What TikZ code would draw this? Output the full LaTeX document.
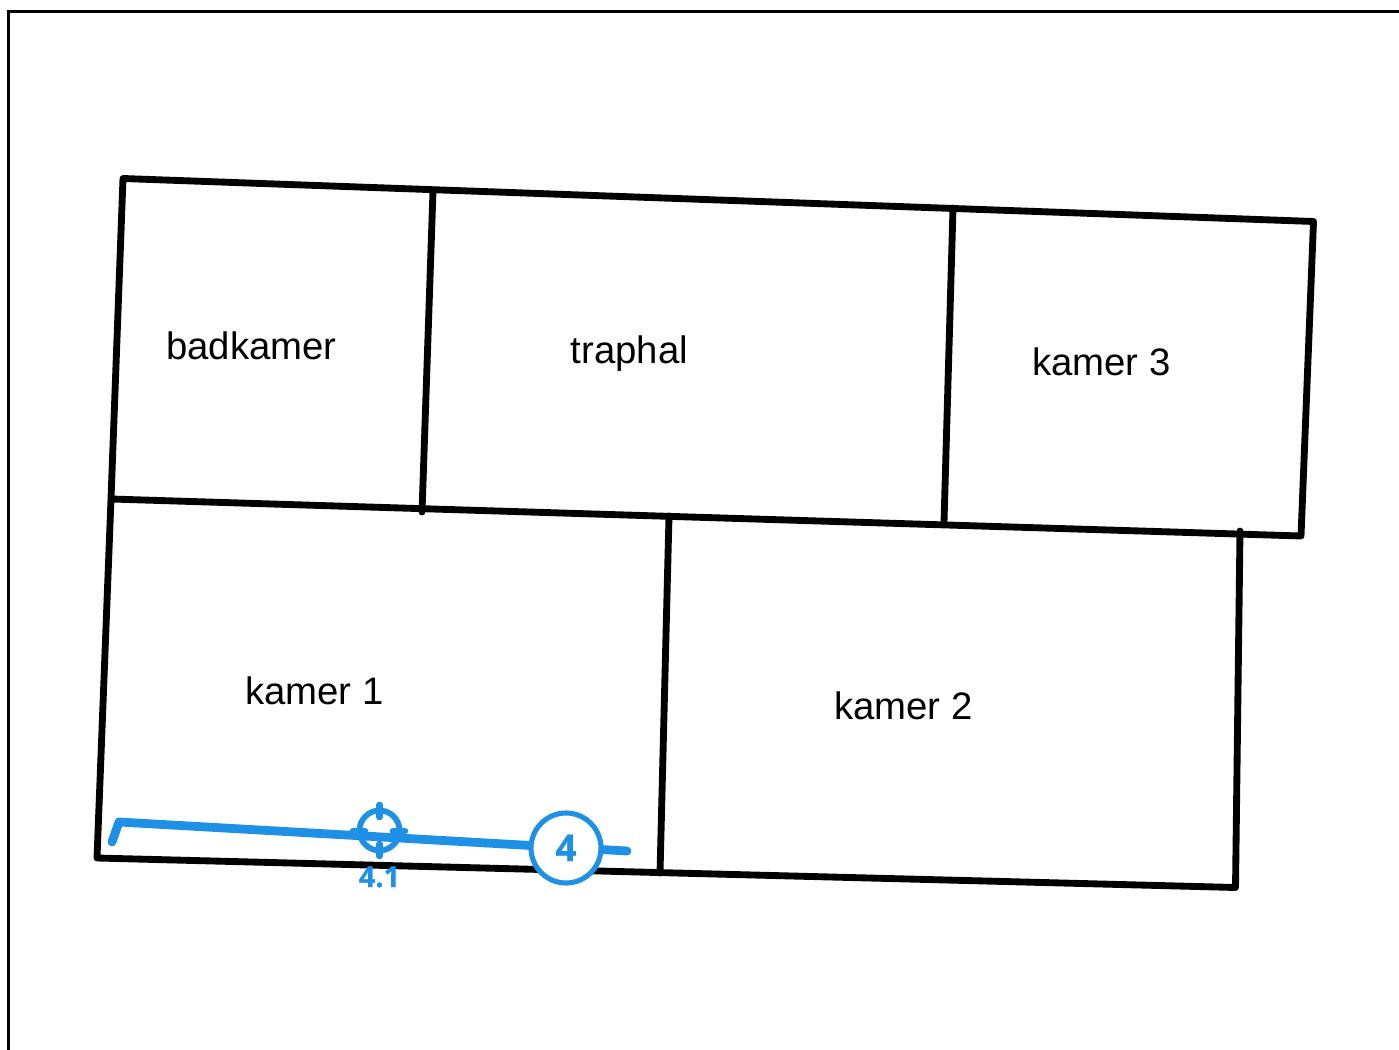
\documentclass[tikz,border=0pt]{standalone}
\usepackage{fontspec}
\setmainfont{Liberation Sans}
\newfontfamily\pipefont[FakeBold=0.8]{Open Sans Bold}
\newcommand*{\base}{0.02cm}
\definecolor{pipeblue}{HTML}{1E90E6}
\tikzset{
	frameline/.style={
		draw=black,
		line width=1.7pt
	},
	wall/.style={
		draw=black,
		line width=3.9pt,
		line cap=round,
		line join=round
	},
	room/.style={
		anchor=base,
		inner sep=0pt,
		font=\fontsize{21.8}{26}\selectfont
	},
	pipe/.style={
		draw=pipeblue,
		line width=5pt,
		line cap=round,
		line join=round
	},
	tick/.style={
		draw=pipeblue,
		line width=3.8pt,
		line cap=round
	},
	target/.style={
		circle,
		minimum size=40*\base,
		inner sep=0pt,
		draw=pipeblue,
		line width=3.3pt
	},
	bubble/.style={
		circle,
		minimum size=70*\base,
		inner sep=0pt,
		draw=pipeblue,
		fill=white,
		line width=2.9pt
	},
	pipelabel/.style={
		anchor=base,
		inner sep=0pt,
		text=pipeblue,
		font=\pipefont\fontsize{#1}{#1}\selectfont
	}
}
\begin{document}
\begin{tikzpicture}[x=\base,y=-\base]
	\useasboundingbox (0,0) rectangle (1399,1050);
	\draw[frameline] (8.5,1060) -- (8.5,11.5) -- (1410,11.5);

	\coordinate (nw) at (123,178.5);
	\coordinate (ne) at (1313.5,221.5);
	\coordinate (se) at (1301,536);
	\coordinate (mw) at (111,499);
	\coordinate (sw) at (97,858);
	\coordinate (lo) at (1235.5,887.5);
	\coordinate (lr) at (1240,531);
	\draw[wall] (mw) -- (nw) -- (ne) -- (se) -- (mw) -- (sw) -- (lo) -- (lr);
	\draw[wall] (433,191) -- (422,512);
	\draw[wall] (953,208) -- (944,522);
	\draw[wall] (669,516) -- (660,873);

	\node (badkamer) [room] at (251.5,360) {badkamer};
	\node (traphal) [room] at (629.5,364) {traphal};
	\node (kamer3) [room] at (1101.5,376) {kamer 3};
	\node (kamer1) [room] at (314.5,704) {kamer 1};
	\node (kamer2) [room] at (903.5,719) {kamer 2};

	\coordinate (start) at (112,842);
	\coordinate (bend) at (119,822);
	\coordinate (end) at (627,851);
	\draw[pipe] (start) -- (bend) -- (end);

	\node (tg) [target] at (379.5,830.5) {};
	\draw[tick] (379.5,805) -- (379.5,817);
	\draw[tick] (379.5,844) -- (379.5,856);
	\draw[tick] (353,831) -- (365,831);
	\draw[tick] (393,831) -- (405,831);
	\node (tgtext) [pipelabel=16.5] at (379.5,887) {4.1};

	\node (nr) [bubble] at (566,848) {};
	\node (nrtext) [pipelabel=21] at (566,861) {4};
\end{tikzpicture}
\end{document}
